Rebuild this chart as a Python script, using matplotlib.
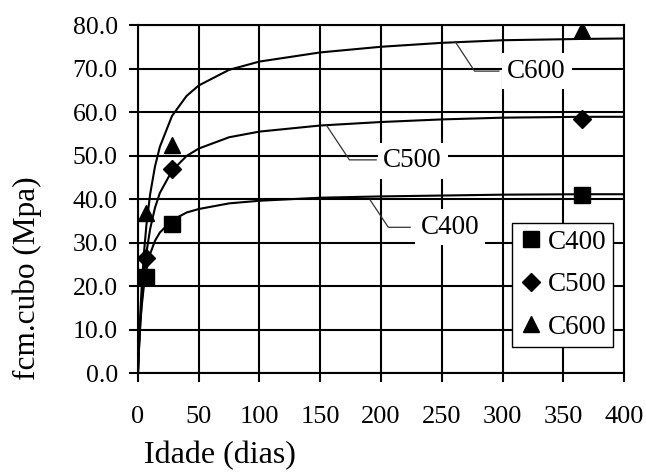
import matplotlib
matplotlib.use("Agg")
import matplotlib.pyplot as plt

plt.rcParams['font.family'] = ['Liberation Serif', 'DejaVu Serif']

# curve values (age in days -> fcm.cubo in MPa)
curve_age = [0, 1, 2, 3, 5, 7, 10, 14, 18, 28, 40, 50, 75, 100, 150, 200, 250, 300, 365, 400]
curve_c400 = [0.0, 6.7, 11.6, 15.2, 20.4, 23.9, 27.4, 30.4, 32.3, 35.1, 36.9, 37.7, 39.0, 39.6,
              40.3, 40.6, 40.8, 41.0, 41.1, 41.1]
curve_c500 = [0.0, 6.6, 11.9, 16.2, 22.9, 27.8, 33.1, 38.0, 41.4, 46.5, 49.9, 51.6, 54.2, 55.5,
              56.9, 57.7, 58.3, 58.7, 58.9, 58.9]
curve_c600 = [0.0, 7.8, 14.2, 19.5, 27.9, 34.2, 41.1, 47.5, 52.0, 59.1, 63.7, 66.1, 69.7, 71.6,
              73.7, 75.0, 75.9, 76.5, 76.8, 76.9]

# measured points
test_age = [7, 28, 365]
test_c400 = [22.0, 34.3, 41.0]
test_c500 = [26.5, 47.0, 58.3]
test_c600 = [36.7, 52.4, 78.9]

series_names = ["C400", "C500", "C600"]
marker_styles = ["s", "D", "^"]

# curve labels: point on curve, knee of leader, end of leader, text position
label_leaders = {
    "C600": [(261, 76.2), (277, 69.4), (297, 69.4), (328, 69.4)],
    "C500": [(155, 57.0), (174, 49.0), (196, 49.0), (226, 48.8)],
    "C400": [(191, 39.8), (206, 33.5), (224, 33.5), (257, 33.5)],
}

fig = plt.figure(figsize=(6.46, 4.72), dpi=100)
ax = fig.add_axes([0.2136, 0.2097, 0.7524, 0.7373])

ax.grid(True, color="black", linewidth=1.5, zorder=0)
ax.set_axisbelow(True)

for vals in [curve_c400, curve_c500, curve_c600]:
    ax.plot(curve_age, vals, color="black", linewidth=1.5, zorder=3)

for name, mk, vals in zip(series_names, marker_styles, [test_c400, test_c500, test_c600]):
    ms = 9 if mk == "D" else 11
    ax.plot(test_age, vals, linestyle="none", marker=mk, markersize=ms,
            color="black", label=name, zorder=5)

for name, pts in label_leaders.items():
    xs = [p[0] for p in pts[:3]]
    ys = [p[1] for p in pts[:3]]
    ax.plot(xs, ys, color="#333333", linewidth=0.9, zorder=4)
    ax.text(pts[3][0], pts[3][1], name, fontsize=19.5, ha="center", va="center", zorder=4,
            bbox=dict(facecolor="white", edgecolor="none", pad=4))

ax.set_xlim(0, 400)
ax.set_ylim(0, 80)
ax.set_xticks(range(0, 401, 50))
ax.set_yticks(range(0, 81, 10))
ax.set_yticklabels([f"{v:.1f}" for v in range(0, 81, 10)])
ax.tick_params(axis="x", labelsize=19, length=6.5, width=1.5, pad=17, direction="out")
ax.tick_params(axis="y", labelsize=18.5, length=6.5, width=1.5, pad=8, direction="out")
for sp in ax.spines.values():
    sp.set_linewidth(1.5)

ax.set_xlabel("Idade (dias)", fontsize=23)
ax.xaxis.set_label_coords(0.169, -0.195)
ax.set_ylabel("fcm.cubo (Mpa)", fontsize=22.5)
ax.yaxis.set_label_coords(-0.197, 0.272)

leg = ax.legend(loc="lower right", bbox_to_anchor=(0.977, 0.0756), borderaxespad=0,
                fontsize=19.5, frameon=True, fancybox=False, edgecolor="black",
                framealpha=1, handlelength=0.9, handletextpad=0.15, borderpad=0.25,
                labelspacing=0.65)
leg.get_frame().set_linewidth(1.0)
leg.set_zorder(6)

fig.savefig("out.png", dpi=100)
